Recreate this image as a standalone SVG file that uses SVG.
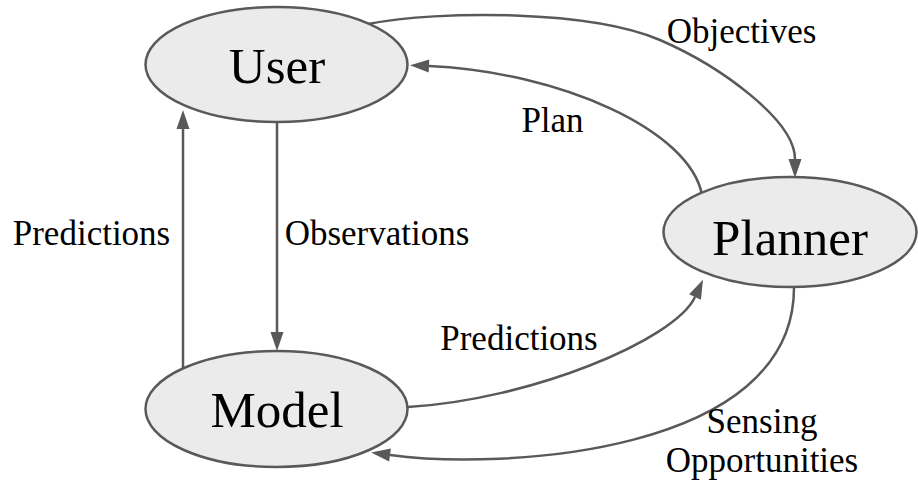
<svg xmlns="http://www.w3.org/2000/svg" width="918" height="485" viewBox="0 0 918 485">
  <style>
    .node ellipse { fill: #ebebeb; stroke: #595959; stroke-width: 2.5; }
    .node text { font-family: "Liberation Serif", "Times New Roman", serif; font-size: 51px; fill: #000; text-anchor: middle; }
    .edge { fill: none; stroke: #595959; stroke-width: 2.5; marker-end: url(#arrow); }
    .label { font-family: "Liberation Serif", "Times New Roman", serif; font-size: 35px; fill: #000; text-anchor: middle; }
  </style>
  <defs>
    <!-- arrowhead: the path ends at the base, the head extends forward -->
    <marker id="arrow" markerUnits="userSpaceOnUse" markerWidth="19" markerHeight="13" refX="0" refY="6.5" orient="auto" overflow="visible">
      <path d="M0,0 L19,6.5 L0,13 z" fill="#595959"/>
    </marker>
  </defs>

  <rect width="918" height="485" fill="#ffffff"/>

  <!-- connectors, drawn under the nodes -->
  <g id="connectors">
    <path id="user-model" class="edge" d="M277,122 L277,332"/>
    <path id="model-user" class="edge" d="M183,368 L183,129"/>
    <path id="user-planner" class="edge" d="M368,24 C440,10 590,10 660,40 C720,66 795,120 795,159"/>
    <path id="planner-user" class="edge" d="M702,195 C690,130 560,72 429,66"/>
    <path id="model-planner" class="edge" d="M408,407 C530,400 675,340 695,297"/>
    <path id="planner-model" class="edge" d="M794,287 C795,455 500,470 390,455"/>
  </g>

  <g id="edge-labels">
    <text class="label" x="741.5" y="43">Objectives</text>
    <text class="label" x="552.5" y="132">Plan</text>
    <text class="label" x="91.5" y="245">Predictions</text>
    <text class="label" x="377" y="245">Observations</text>
    <text class="label" x="519" y="350">Predictions</text>
    <text class="label" x="762" y="433">Sensing</text>
    <text class="label" x="762" y="472">Opportunities</text>
  </g>

  <g id="user" class="node">
    <ellipse cx="276.5" cy="64.5" rx="131" ry="57.5"/>
    <text x="277" y="83">User</text>
  </g>
  <g id="planner" class="node">
    <ellipse cx="790" cy="232" rx="126.5" ry="55"/>
    <text x="790" y="255">Planner</text>
  </g>
  <g id="model" class="node">
    <ellipse cx="276.5" cy="409" rx="131" ry="58"/>
    <text x="277" y="427">Model</text>
  </g>
</svg>
